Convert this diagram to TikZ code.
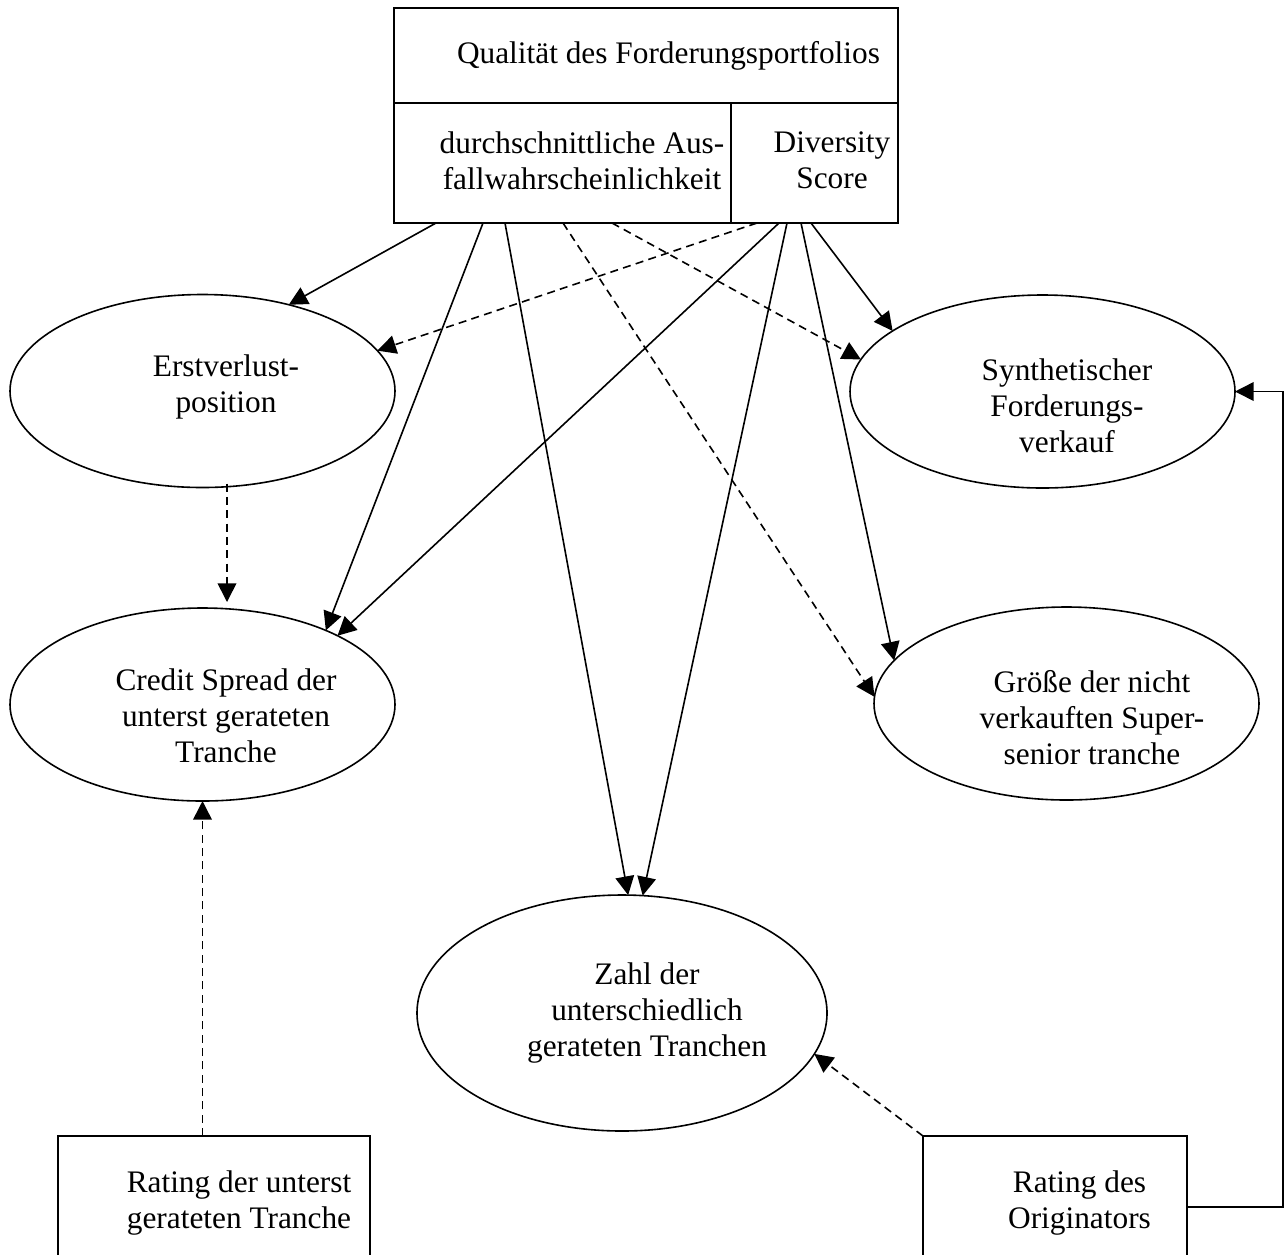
\documentclass[tikz,border=0pt]{standalone}
\usepackage{fontspec}
\setmainfont{Liberation Serif}
\usetikzlibrary{arrows.meta,shapes.geometric,calc}

\tikzset{every picture/.style={line width=1.2pt}}
\tikzset{
  txt/.style={font=\fontsize{23.5}{27}\selectfont, align=center, inner sep=0pt},
  box/.style={draw, rectangle, inner sep=0pt, outer sep=0pt},
  oval/.style={draw, ellipse, inner sep=0pt, outer sep=0pt, minimum width=288.75pt, minimum height=144.75pt},
  tip/.style={-{Triangle[length=14pt,width=14pt]}},
  dtip/.style={tip, dash pattern=on 6pt off 4pt},
}

\begin{document}
\begin{tikzpicture}[x=0.75pt,y=0.75pt,yscale=-1,xscale=1]
\useasboundingbox (0,0) rectangle (1287,1254);

%Shape: Rectangle
\node[box, minimum width=378pt, minimum height=71.25pt] (qual) at (646,55.5) {};
\node[box, anchor=north west, minimum width=252.75pt, minimum height=90pt] (pd) at (qual.south west) {};
\node[box, anchor=north west, minimum width=125.25pt, minimum height=90pt] (div) at (pd.north east) {};
\node[box, minimum width=234pt, minimum height=106.5pt] (rlow) at (214,1207) {};
\node[box, minimum width=198pt, minimum height=106.5pt] (rorig) at (1055,1207) {};

%Shape: Ellipse
\node[oval] (erst) at (202.5,391) {};
\node[oval] (credit) at (202.5,704.5) {};
\node[oval] (synth) at (1042.5,391.5) {};
\node[oval] (groesse) at (1066.5,703.5) {};
\node[oval, minimum width=307.5pt, minimum height=177pt] (zahl) at (622,1013) {};

% Text Node
\node[txt] (qual-t) at (668.5,56) {Qualität des Forderungsportfolios};
% Text Node
\node[txt] (pd-t) at (582,160.5) {durchschnittliche Aus-\\fallwahrscheinlichkeit};
% Text Node
\node[txt] (div-t) at (832,160.5) {Diversity\\Score};
% Text Node
\node[txt] (erst-t) at (226,386.5) {Erstverlust-\\position};
% Text Node
\node[txt] (credit-t) at (226,716) {Credit Spread der\\unterst gerateten\\Tranche};
% Text Node
\node[txt] (synth-t) at (1067,406) {Synthetischer\\Forderungs-\\verkauf};
% Text Node
\node[txt] (groesse-t) at (1092,718) {Größe der nicht\\verkauften Super-\\senior tranche};
% Text Node
\node[txt] (zahl-t) at (647,1013) {Zahl der\\unterschiedlich\\gerateten Tranchen};
% Text Node
\node[txt] (rlow-t) at (239,1202.5) {Rating der unterst\\gerateten Tranche};
% Text Node
\node[txt] (rorig-t) at (1079.5,1202.5) {Rating des\\Originators};

%Straight Lines
\draw[tip] ($(pd.south west)+(42,0)$) -- (erst.45.5);
\draw[tip] ($(pd.south west)+(89,0)$) -- (credit.31.7);
\draw[tip] ($(pd.south west)+(111,0)$) -- (zahl.87.2);
\draw[dtip] ($(pd.south west)+(169,0)$) -- (groesse.178.1);
\draw[dtip] ($(pd.south west)+(218,0)$) -- (synth.170);
\draw[dtip] ($(div.south west)+(26,0)$) -- (erst.13.8);
\draw[tip] ($(div.south west)+(48,0)$) -- (credit.27.8);
\draw[tip] ($(div.south west)+(56,0)$) -- (zahl.80.8);
\draw[tip] ($(div.south west)+(70,0)$) -- (groesse.166.8);
\draw[tip] ($(div.south west)+(80,0)$) -- (synth.158.3);
\draw[dtip] ($(erst.south)+(24.5,-4)$) -- ($(credit.north)+(24.5,-6)$);
\draw[dtip] (rlow.north -| credit.south) -- (credit.south);
\draw[dtip] (rorig.north west) -- (zahl.-12.5);
%Connector
\draw[tip] (rorig.east) -- ++(96,0) |- (synth.east);

\end{tikzpicture}
\end{document}
